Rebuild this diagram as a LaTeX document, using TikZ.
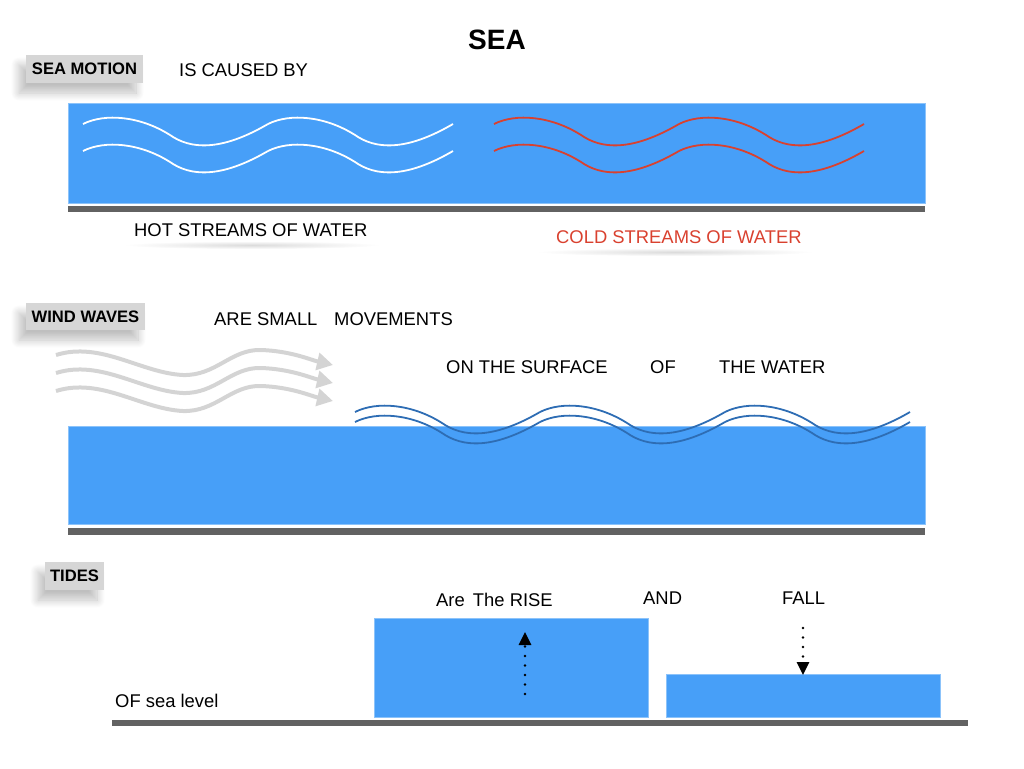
\documentclass[tikz,border=0pt]{standalone}
\usepackage{fontspec}
\setmainfont{Liberation Sans}
\usetikzlibrary{arrows.meta,shadows.blur}
\definecolor{sea}{HTML}{479FF8}
\definecolor{seaedge}{HTML}{8CC3FA}
\definecolor{bar}{HTML}{626262}
\definecolor{lblgray}{HTML}{D6D6D6}
\definecolor{coldred}{HTML}{D9412F}
\definecolor{wavedark}{HTML}{2E6DB4}
\definecolor{windgray}{HTML}{D4D4D4}
\begin{document}
\begin{tikzpicture}[x=1pt,y=-1pt,
  txt/.style={inner sep=0pt, anchor=base west, font=\fontsize{18.4}{22}\selectfont},
  lbl/.style={fill=lblgray, inner sep=0pt, font=\fontsize{16.6}{20}\selectfont\bfseries,
    blur shadow={shadow xshift=-7pt, shadow yshift=-10pt, shadow opacity=25, shadow blur radius=8pt, shadow blur steps=12}},
  water/.style={fill=sea, draw=seaedge, line width=0.8pt},
  groundbar/.style={fill=bar},
  stream/.style={line width=1.8pt},
  windarrow/.style={draw=windgray, line width=4pt, -{Triangle[length=16pt,width=17pt]}},
  dotline/.style={line width=2.6pt, line cap=round, dash pattern=on 0pt off 9.5pt, -{Triangle[length=13pt,width=12pt]}},
  textshadow/.style={inner color=black!14, outer color=white},
  wavep/.pic={\draw[pic actions] (0,0) .. controls (22,-11) and (57,-8) .. (87,11)
     .. controls (107,25) and (137,28) .. (185,0);},
  windp/.pic={\draw[windarrow] (0,0) .. controls (45,-14) and (85,18) .. (127,20)
     .. controls (160,21) and (175,-6) .. (205,-5)
     .. controls (235,-4) and (255,5) .. (277,10);}
]
\useasboundingbox (0,0) rectangle (1024,768);

% title
\node[inner sep=0pt, anchor=base, font=\fontsize{28}{32}\selectfont\bfseries] (title) at (497,49) {SEA};

% ---------- section 1 ----------
\node[lbl, minimum width=117pt, minimum height=28pt] (seamotion) at (84.5,69) {SEA MOTION};
\node[txt] (caused) at (179,77) {IS CAUSED BY};
\draw[water] (68,103) rectangle (925,203);
\fill[groundbar] (68,205.5) rectangle (925,212);
\foreach \yy in {124,151}{
  \pic[draw=white, stream] at (83,\yy) {wavep};
  \pic[draw=white, stream] at (268,\yy) {wavep};
  \pic[draw=coldred, stream] at (494,\yy) {wavep};
  \pic[draw=coldred, stream] at (679,\yy) {wavep};
}
\shade[textshadow] (252,245) ellipse [x radius=128pt, y radius=4pt];
\shade[textshadow] (675,252) ellipse [x radius=138pt, y radius=4pt];
\node[txt] (hot) at (134,236.5) {HOT STREAMS OF WATER};
\node[txt, text=coldred] (cold) at (556,243) {COLD STREAMS OF WATER};

% ---------- section 2 ----------
\node[lbl, minimum width=119pt, minimum height=27pt] (windwaves) at (85.5,316.5) {WIND WAVES};
\node[txt] (small) at (214,325.5) {ARE SMALL};
\node[txt] (movements) at (334,325.5) {MOVEMENTS};
\node[txt] (surface) at (446,373.5) {ON THE SURFACE};
\node[txt] (of) at (650,373.5) {OF};
\node[txt] (thewater) at (719,373.5) {THE WATER};
\foreach \yy in {355,373,391}{
  \pic at (56,\yy) {windp};
}
\draw[water] (68,426) rectangle (925,524);
\fill[groundbar] (68,527.5) rectangle (925,534.5);
\foreach \yy in {412,422}{
  \pic[draw=wavedark, stream] at (355,\yy) {wavep};
  \pic[draw=wavedark, stream] at (540,\yy) {wavep};
  \pic[draw=wavedark, stream] at (725,\yy) {wavep};
}

% ---------- section 3 ----------
\node[lbl, minimum width=59pt, minimum height=28pt] (tides) at (74.5,576) {TIDES};
\node[txt] (sealevel) at (115,707.5) {OF sea level};
\node[txt] (rise) at (436,606.5) {Are\hspace{3pt} The RISE};
\node[txt] (and) at (643,604.5) {AND};
\node[txt] (fall) at (782,604.5) {FALL};
\draw[water] (374,618) rectangle (648,717);
\draw[water] (666,674) rectangle (940,717);
\fill[groundbar] (112,719.5) rectangle (968,725.5);
\coordinate (riseS) at (525,694);
\coordinate (riseE) at (525,632);
\draw[dotline] (riseS) -- (riseE);
\coordinate (fallS) at (803,628);
\coordinate (fallE) at (803,675);
\draw[dotline] (fallS) -- (fallE);
\end{tikzpicture}
\end{document}
